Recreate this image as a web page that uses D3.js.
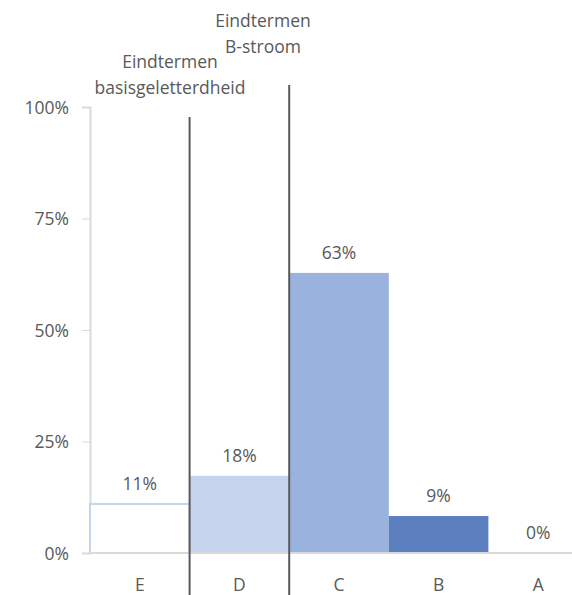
<!DOCTYPE html>
<html>
<head>
<meta charset="utf-8">
<script src="https://cdn.jsdelivr.net/npm/d3@7"></script>
<style>
  body { margin: 0; background: #fff; }
  text { font-family: "Open Sans", "Noto Sans", sans-serif; font-weight: 400; fill: #595959; }
</style>
</head>
<body>
<div id="chart"></div>
<script>
// chart data
var categories = ["E", "D", "C", "B", "A"];
var values = [11.0, 17.3, 62.8, 8.3, 0];
var valueLabels = ["11%", "18%", "63%", "9%", "0%"];
var yTicks = [0, 25, 50, 75, 100];
var barColors = ["#ffffff", "#c5d3ec", "#9ab2de", "#5b7fbf", "#3d5fa0"];
var markers = [
    { after: "E", lines: ["Eindtermen", "basisgeletterdheid"] },
    { after: "D", lines: ["Eindtermen", "B-stroom"] }
];

var w = 572, h = 595;
var plotLeft = 90, plotTop = 107, plotBottom = 553;
var fs = "17.5px";

var svg = d3.select("#chart").append("svg")
    .attr("width", w)
    .attr("height", h);

var xScale = d3.scaleBand()
    .domain(categories)
    .range([plotLeft, plotLeft + 498])
    .padding(0);

var yScale = d3.scaleLinear()
    .domain([0, 100])
    .range([plotBottom, plotTop]);

// y axis
var yAxis = d3.axisLeft(yScale)
    .tickValues(yTicks)
    .tickSize(8)
    .tickPadding(13)
    .tickFormat(function(d) { return d + "%"; });

var gy = svg.append("g")
    .attr("transform", "translate(" + plotLeft + ",0)")
    .call(yAxis);
gy.select(".domain").attr("stroke", "#d9d9d9").attr("stroke-width", 2);
gy.selectAll(".tick line").attr("stroke", "#d9d9d9").attr("stroke-width", 1);
gy.selectAll(".tick text").style("font-size", fs).attr("dy", "0.35em").attr("fill", null);

// bars
svg.selectAll("rect.bar")
    .data(values)
    .enter()
    .append("rect")
    .attr("class", "bar")
    .attr("x", function(d, i) { return xScale(categories[i]); })
    .attr("width", xScale.bandwidth())
    .attr("y", function(d) { return yScale(d); })
    .attr("height", function(d) { return plotBottom - yScale(d); })
    .style("fill", function(d, i) { return barColors[i]; })
    .style("stroke", function(d, i) { return i == 0 ? "#c5d3ec" : "none"; })
    .style("stroke-width", 2);

// x axis line
svg.append("line")
    .attr("x1", plotLeft).attr("x2", w)
    .attr("y1", plotBottom).attr("y2", plotBottom)
    .attr("stroke", "#d9d9d9")
    .attr("stroke-width", 2);

// category labels
svg.selectAll("text.cat")
    .data(categories)
    .enter()
    .append("text")
    .attr("class", "cat")
    .attr("x", function(d) { return xScale(d) + xScale.bandwidth() / 2; })
    .attr("y", 591)
    .attr("text-anchor", "middle")
    .style("font-size", fs)
    .text(function(d) { return d; });

// value labels
svg.selectAll("text.val")
    .data(values)
    .enter()
    .append("text")
    .attr("class", "val")
    .attr("x", function(d, i) { return xScale(categories[i]) + xScale.bandwidth() / 2; })
    .attr("y", function(d) { return yScale(d) - 14; })
    .attr("text-anchor", "middle")
    .style("font-size", fs)
    .text(function(d, i) { return valueLabels[i]; });

// divider lines with annotations
var lineTops = [117, 85];
var textY = [[68, 94], [27, 53]];
var textX = [170, 263];
markers.forEach(function(m, k) {
    var x = xScale(m.after) + xScale.bandwidth();
    svg.append("line")
        .attr("x1", x).attr("x2", x)
        .attr("y1", lineTops[k]).attr("y2", h)
        .attr("stroke", "#595959")
        .attr("stroke-width", 2);
    m.lines.forEach(function(t, j) {
        svg.append("text")
            .attr("x", textX[k])
            .attr("y", textY[k][j])
            .attr("text-anchor", "middle")
            .style("font-size", fs)
            .text(t);
    });
});
</script>
</body>
</html>
